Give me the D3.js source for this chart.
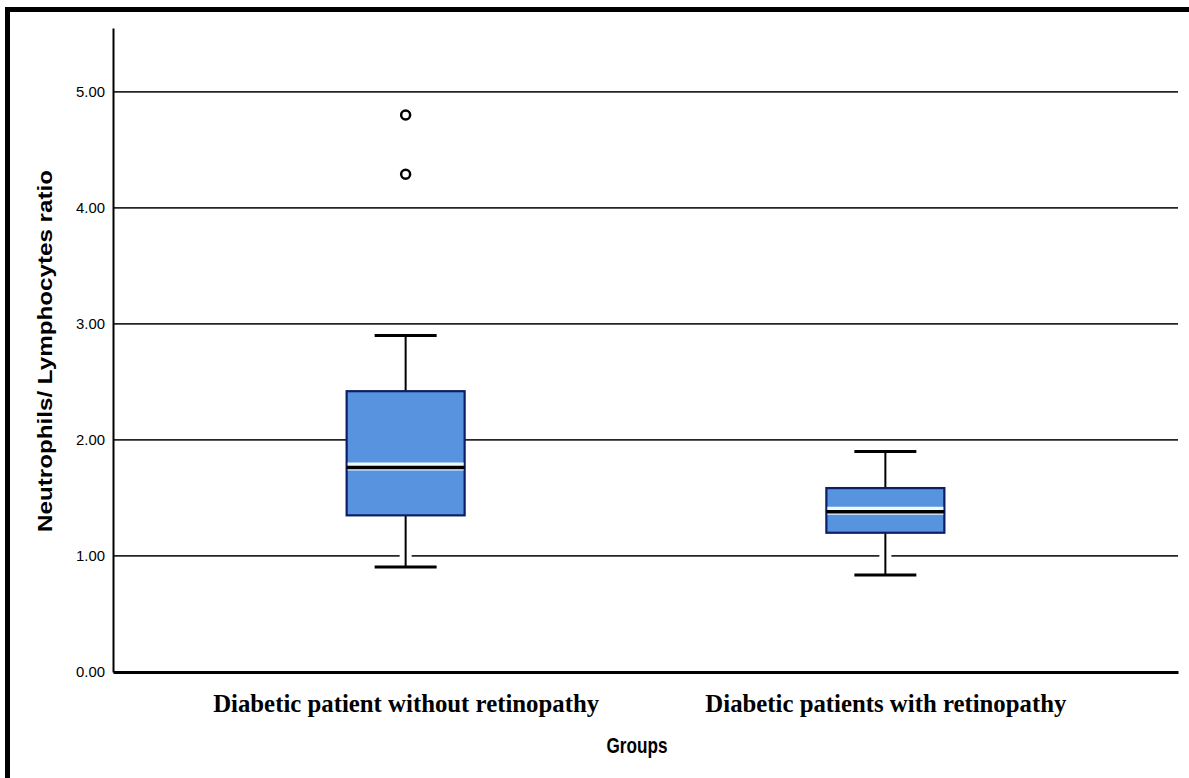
<!DOCTYPE html>
<html>
<head>
<meta charset="utf-8">
<script src="https://cdn.jsdelivr.net/npm/d3@7"></script>
<style>
  html, body { margin: 0; padding: 0; background: #fff; }
  svg { display: block; }
</style>
</head>
<body>
<svg id="chart" width="1189" height="778"></svg>
<script>
// Box-plot summaries of the neutrophil/lymphocyte ratio per group
const groups = ["Diabetic patient without retinopathy", "Diabetic patients with retinopathy"];
const whiskerLow  = [0.905, 0.835];
const q1          = [1.35, 1.20];
const median      = [1.77, 1.39];
const q3          = [2.42, 1.585];
const whiskerHigh = [2.90, 1.90];
const outliers    = [[4.80, 4.29], []];
const yTicks      = [0, 1, 2, 3, 4, 5];

const svg = d3.select("#chart");
const plotLeft = 113, plotRight = 1178, plotTop = 28, plotBottom = 672;

const y = d3.scaleLinear().domain([0, 5.55]).range([plotBottom, plotTop]);
const x = d3.scalePoint().domain(groups).range([plotLeft, plotRight]).padding(0.61);

// outer frame
svg.append("rect")
  .attr("x", 7.5).attr("y", 9.5)
  .attr("width", 1200).attr("height", 800)
  .attr("fill", "none").attr("stroke", "#000").attr("stroke-width", 5);

// horizontal gridlines
svg.append("g").selectAll("line")
  .data(yTicks.filter(d => d > 0))
  .join("line")
  .attr("x1", plotLeft).attr("x2", plotRight)
  .attr("y1", d => y(d)).attr("y2", d => y(d))
  .attr("stroke", "#262626").attr("stroke-width", 1.7);

// y axis
const yAxis = d3.axisLeft(y).tickValues(yTicks).tickFormat(d3.format(".2f")).tickSize(0).tickPadding(8);
const gy = svg.append("g").attr("transform", `translate(${plotLeft},0)`).call(yAxis);
gy.select(".domain").attr("stroke", "#000").attr("stroke-width", 2);
gy.selectAll("text")
  .attr("font-family", "Liberation Sans, Arial, sans-serif")
  .attr("font-size", 15).attr("fill", "#000")
  .attr("textLength", 29).attr("lengthAdjust", "spacingAndGlyphs");

// x axis baseline and category labels
const xAxis = d3.axisBottom(x).tickSize(0).tickPadding(0);
const gx = svg.append("g").attr("transform", `translate(0,${plotBottom})`).call(xAxis);
gx.select(".domain").attr("stroke", "#000").attr("stroke-width", 3);
const catWidths = [386, 361];
gx.selectAll("text")
  .attr("y", 40)
  .attr("dy", 0)
  .attr("font-family", "Liberation Serif, 'Times New Roman', serif")
  .attr("font-weight", "bold")
  .attr("font-size", 26)
  .attr("fill", "#000")
  .attr("textLength", (d, i) => catWidths[i])
  .attr("lengthAdjust", "spacingAndGlyphs");

// axis titles
svg.append("text")
  .attr("x", 637).attr("y", 753)
  .attr("text-anchor", "middle")
  .attr("font-family", "Liberation Sans, Arial, sans-serif")
  .attr("font-weight", "bold").attr("font-size", 22)
  .attr("textLength", 61).attr("lengthAdjust", "spacingAndGlyphs")
  .text("Groups");

svg.append("text")
  .attr("transform", "translate(52,351) rotate(-90)")
  .attr("text-anchor", "middle")
  .attr("font-family", "Liberation Sans, Arial, sans-serif")
  .attr("font-weight", "bold").attr("font-size", 21)
  .attr("textLength", 362).attr("lengthAdjust", "spacingAndGlyphs")
  .text("Neutrophils/ Lymphocytes ratio");

// boxes
const boxW = 118, capW = 62;
const data = groups.map((g, i) => ({
  g, lo: whiskerLow[i], q1: q1[i], med: median[i], q3: q3[i], hi: whiskerHigh[i], out: outliers[i]
}));

const box = svg.append("g").selectAll("g").data(data).join("g")
  .attr("transform", d => `translate(${x(d.g)},0)`);

// white halo behind whiskers
box.append("line").attr("x1", 0).attr("x2", 0)
  .attr("y1", d => y(d.lo)).attr("y2", d => y(d.hi))
  .attr("stroke", "#fff").attr("stroke-width", 12);
// whiskers
box.append("line").attr("x1", 0).attr("x2", 0)
  .attr("y1", d => y(d.lo)).attr("y2", d => y(d.hi))
  .attr("stroke", "#000").attr("stroke-width", 2);
box.selectAll(".cap").data(d => [d.lo, d.hi]).join("line")
  .attr("class", "cap")
  .attr("x1", -capW / 2).attr("x2", capW / 2)
  .attr("y1", v => y(v)).attr("y2", v => y(v))
  .attr("stroke", "#000").attr("stroke-width", 3);

// interquartile box
box.append("rect")
  .attr("x", -boxW / 2).attr("width", boxW)
  .attr("y", d => y(d.q3)).attr("height", d => y(d.q1) - y(d.q3))
  .attr("fill", "#5893e0").attr("stroke", "#0c1f66").attr("stroke-width", 2.2);

// median with light halo
box.append("line")
  .attr("x1", -boxW / 2 + 1).attr("x2", boxW / 2 - 1)
  .attr("y1", d => y(d.med)).attr("y2", d => y(d.med))
  .attr("stroke", "#eef8ff").attr("stroke-width", 8);
box.append("line")
  .attr("x1", -boxW / 2).attr("x2", boxW / 2)
  .attr("y1", d => y(d.med) + 1).attr("y2", d => y(d.med) + 1)
  .attr("stroke", "#000").attr("stroke-width", 3.5);

// outliers
box.selectAll("circle").data(d => d.out).join("circle")
  .attr("cx", 0).attr("cy", v => y(v)).attr("r", 4.5)
  .attr("fill", "#fff").attr("stroke", "#000").attr("stroke-width", 2.5);
</script>
</body>
</html>
